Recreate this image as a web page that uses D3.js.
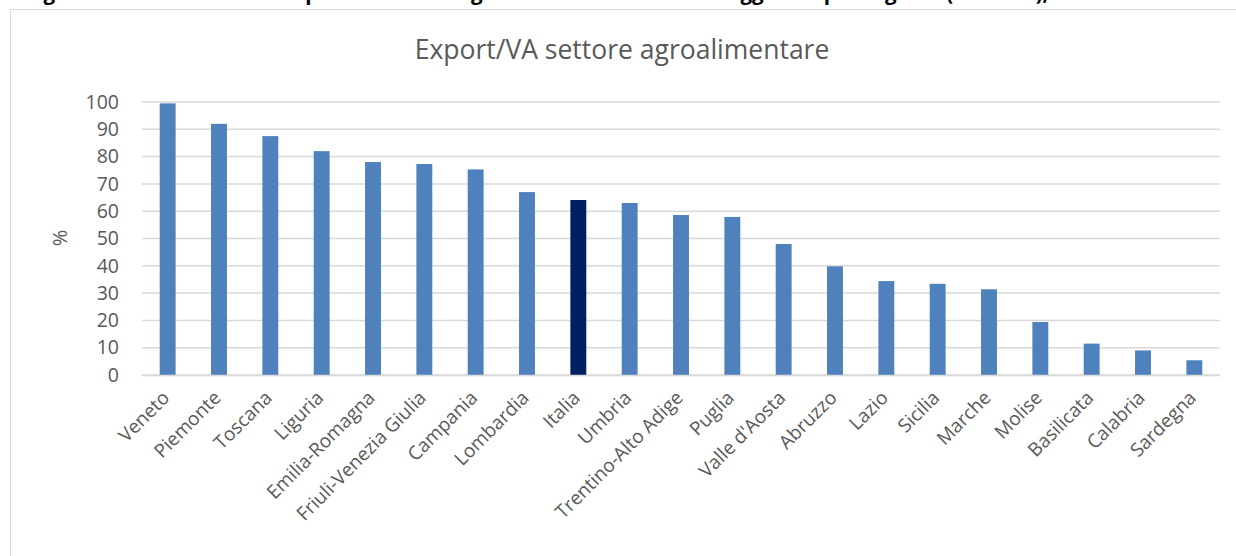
<!DOCTYPE html>
<html>
<head>
<meta charset="utf-8">
<script src="https://cdn.jsdelivr.net/npm/d3@7"></script>
<style>
  body { margin: 0; background: #fff; }
  svg { display: block; }
</style>
</head>
<body>
<div id="chart"></div>
<script>
var regioni = ['Veneto', 'Piemonte', 'Toscana', 'Liguria', 'Emilia-Romagna', 'Friuli-Venezia Giulia',
    'Campania', 'Lombardia', 'Italia', 'Umbria', 'Trentino-Alto Adige', 'Puglia', "Valle d'Aosta",
    'Abruzzo', 'Lazio', 'Sicilia', 'Marche', 'Molise', 'Basilicata', 'Calabria', 'Sardegna'];
var exportVA = [99.5, 92.0, 87.5, 82.0, 78.0, 77.3, 75.3, 67.0, 64.1, 63.0, 58.6, 57.9, 48.0,
    39.8, 34.4, 33.4, 31.4, 19.4, 11.5, 9.0, 5.4];
var yTicks = [0, 10, 20, 30, 40, 50, 60, 70, 80, 90, 100];

var W = 1236, H = 556;
var plotL = 142, plotR = 1220, plotT = 102, plotB = 375;

var svg = d3.select('#chart').append('svg')
    .attr('width', W)
    .attr('height', H);

// titolo della figura, tagliato in alto
svg.append('text')
    .attr('x', 26)
    .attr('y', 0)
    .attr('font-family', 'Open Sans')
    .attr('font-weight', 'bold')
    .attr('font-size', 20.5)
    .attr('fill', '#000')
    .text("Figura 1 - Incidenza delle esportazioni dell'agroalimentare sul valore aggiunto per regione (valori %), anno 2019");

// cornice del grafico
svg.append('rect')
    .attr('x', 10.5)
    .attr('y', 9.5)
    .attr('width', 1300)
    .attr('height', 600)
    .attr('fill', '#fff')
    .attr('stroke', '#d9d9d9')
    .attr('stroke-width', 1);

var x = d3.scaleBand()
    .domain(regioni)
    .range([plotL, plotR])
    .paddingInner(0.69)
    .paddingOuter(0.345);

var y = d3.scaleLinear()
    .domain([0, 100])
    .range([plotB, plotT]);

// griglia
svg.append('g')
    .selectAll('line')
    .data(yTicks)
    .enter()
    .append('line')
    .attr('x1', plotL)
    .attr('x2', plotR)
    .attr('y1', function (d) { return y(d); })
    .attr('y2', function (d) { return y(d); })
    .attr('stroke', '#d9d9d9')
    .attr('stroke-width', 1.5);

// asse y
var yAxis = svg.append('g')
    .attr('transform', 'translate(' + (plotL - 23) + ',0)')
    .call(d3.axisLeft(y).tickValues(yTicks).tickSize(0).tickPadding(0));
yAxis.select('.domain').remove();
yAxis.selectAll('text')
    .attr('font-family', 'Open Sans')
    .attr('font-size', 19.5)
    .attr('fill', '#595959');

svg.append('text')
    .attr('transform', 'translate(67,238) rotate(-90)')
    .attr('text-anchor', 'middle')
    .attr('font-family', 'Open Sans')
    .attr('font-size', 20)
    .attr('fill', '#595959')
    .text('%');

// barre
svg.append('g')
    .selectAll('rect')
    .data(exportVA)
    .enter()
    .append('rect')
    .attr('x', function (d, i) { return x(regioni[i]); })
    .attr('y', function (d) { return y(d); })
    .attr('width', x.bandwidth())
    .attr('height', function (d) { return y(0) - y(d); })
    .attr('fill', function (d, i) { return regioni[i] === 'Italia' ? '#002060' : '#4f81bd'; });

// asse x
var xAxis = svg.append('g')
    .attr('transform', 'translate(0,' + plotB + ')')
    .call(d3.axisBottom(x).tickSize(0).tickPadding(0));
xAxis.select('.domain')
    .attr('stroke', '#d9d9d9')
    .attr('stroke-width', 1.5);
xAxis.selectAll('text')
    .attr('font-family', 'Open Sans')
    .attr('font-size', 19)
    .attr('fill', '#595959')
    .attr('text-anchor', 'end')
    .attr('dy', 0)
    .attr('transform', 'translate(3,24) rotate(-45)');

// titolo del grafico
svg.append('text')
    .attr('x', 622)
    .attr('y', 59)
    .attr('text-anchor', 'middle')
    .attr('font-family', 'Open Sans')
    .attr('font-size', 26.5)
    .attr('fill', '#595959')
    .text('Export/VA settore agroalimentare');
</script>
</body>
</html>
